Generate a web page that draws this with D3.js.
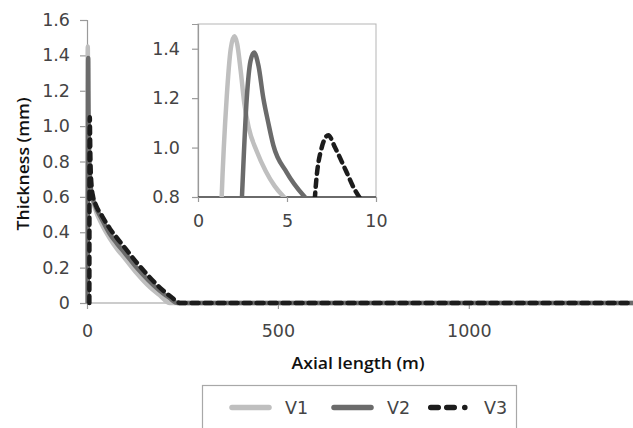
<!DOCTYPE html>
<html>
<head>
<meta charset="utf-8">
<script src="https://cdn.jsdelivr.net/npm/d3@7"></script>
<style>
  html, body { margin: 0; padding: 0; background: #fff; }
  svg { display: block; }
</style>
</head>
<body>
<script>
// ---- Data (axial length in m, thickness in mm) ----
const seriesNames = ["V1", "V2", "V3"];
const v1Length    = [1.0, 1.2, 1.33, 1.61, 1.84, 2.04, 2.2, 2.4, 2.6, 2.85, 3.3, 3.8, 4.3, 4.83, 6, 9, 12, 20, 40, 60, 79, 100, 130, 160, 190, 217, 1430];
const v1Thickness = [0, 0.5, 0.8, 1.2, 1.4, 1.45, 1.42, 1.31, 1.18, 1.08, 0.985, 0.905, 0.845, 0.8, 0.74, 0.66, 0.61, 0.54, 0.44, 0.365, 0.305, 0.25, 0.17, 0.10, 0.045, 0, 0];
const v2Length    = [2.1, 2.3, 2.47, 2.74, 2.95, 3.15, 3.4, 3.67, 3.95, 4.23, 4.98, 6.0, 8, 12, 20, 40, 60, 79, 100, 130, 160, 190, 215, 238, 1430];
const v2Thickness = [0, 0.5, 0.8, 1.2, 1.35, 1.385, 1.33, 1.2, 1.1, 1.01, 0.9, 0.8, 0.7, 0.62, 0.56, 0.47, 0.39, 0.335, 0.28, 0.2, 0.13, 0.07, 0.03, 0, 0];
const v3Length    = [6.2, 6.4, 6.57, 6.95, 7.32, 7.7, 8.35, 8.8, 9.06, 12, 16, 23, 40, 60, 79, 100, 132, 160, 193, 220, 245, 1430];
const v3Thickness = [0, 0.5, 0.8, 1.0, 1.05, 1.0, 0.9, 0.83, 0.8, 0.66, 0.6, 0.555, 0.49, 0.42, 0.366, 0.31, 0.224, 0.155, 0.083, 0.035, 0, 0];

const mainYTicks  = [0, 0.2, 0.4, 0.6, 0.8, 1.0, 1.2, 1.4, 1.6];
const mainXTicks  = [0, 500, 1000];
const insetYTicks = [0.8, 1.0, 1.2, 1.4];
const insetXTicks = [0, 5, 10];

const colors = ["#bfbfbf", "#6b6b6b", "#1c1c1c"];
const dashes = [null, null, "7,6"];

const series = [
  { name: seriesNames[0], x: v1Length, y: v1Thickness },
  { name: seriesNames[1], x: v2Length, y: v2Thickness },
  { name: seriesNames[2], x: v3Length, y: v3Thickness }
].map(s => ({ name: s.name, pts: s.x.map((d, i) => [d, s.y[i]]) }));

// ---- Layout ----
const W = 633, H = 428;
const svg = d3.select("body").append("svg").attr("width", W).attr("height", H);

const defs = svg.append("defs");
defs.append("clipPath").attr("id", "mainClip")
  .append("rect").attr("x", 80).attr("y", 10).attr("width", 553).attr("height", 300);
defs.append("clipPath").attr("id", "insetClip")
  .append("rect").attr("x", 198).attr("y", 24).attr("width", 178).attr("height", 173);

const x = d3.scaleLinear().domain([0, 1430]).range([87, 633]);
const y = d3.scaleLinear().domain([0, 1.6]).range([303, 20]);

const ix = d3.scaleLinear().domain([0, 10]).range([198, 376]);
const iy = d3.scaleLinear().domain([0.8, 1.5]).range([197, 24]);

const tickColor = "#9a9a9a";
const labelColor = "#444";
const tickFont = "'DejaVu Sans', sans-serif";
const fs = "17.5px";

function styleAxis(g) {
  g.attr("font-family", null).attr("font-size", null);
  g.select(".domain").attr("stroke", tickColor).attr("stroke-width", 1.2);
  g.selectAll(".tick line").attr("stroke", tickColor).attr("stroke-width", 1.2);
  g.selectAll(".tick text").attr("fill", labelColor)
    .style("font-family", tickFont).style("font-size", fs);
}

// Main Y axis
const yAxis = svg.append("g").attr("transform", "translate(87,0)")
  .call(d3.axisLeft(y).tickValues(mainYTicks).tickSize(7).tickPadding(10)
    .tickFormat(d => d === 0 ? "0" : d3.format(".1f")(d)));
// Main X axis
const xAxis = svg.append("g").attr("transform", "translate(0,303)")
  .call(d3.axisBottom(x).tickValues(mainXTicks).tickSize(6).tickPadding(16).tickFormat(d3.format("d")));
styleAxis(yAxis);
styleAxis(xAxis);
xAxis.select(".domain").attr("d", "M87,0H633");

// Axis titles
svg.append("text").attr("x", 358).attr("y", 369).attr("text-anchor", "middle")
  .style("font-family", "'Open Sans', sans-serif")
  .style("font-size", "17px").style("font-weight", 600).attr("fill", "#111")
  .attr("textLength", 133).attr("lengthAdjust", "spacingAndGlyphs")
  .text("Axial length (m)");
svg.append("text").attr("transform", "translate(29,164) rotate(-90)").attr("text-anchor", "middle")
  .style("font-family", "'Open Sans', sans-serif")
  .style("font-size", "17px").style("font-weight", 600).attr("fill", "#111")
  .attr("textLength", 133).attr("lengthAdjust", "spacingAndGlyphs")
  .text("Thickness (mm)");

// Main lines
const mainLine = d3.line().x(d => x(d[0])).y(d => y(d[1])).curve(d3.curveMonotoneX);
const mg = svg.append("g").attr("clip-path", "url(#mainClip)");
series.forEach((s, i) => {
  mg.append("path").attr("d", mainLine(s.pts)).attr("fill", "none")
    .attr("stroke", colors[i]).attr("stroke-width", 4.5)
    .attr("stroke-linecap", dashes[i] ? "round" : "butt")
    .attr("stroke-linejoin", "round")
    .attr("stroke-dasharray", dashes[i]);
});

// ---- Inset ----
const ig = svg.append("g");
ig.append("rect").attr("x", 198).attr("y", 24).attr("width", 178).attr("height", 173)
  .attr("fill", "#fff").attr("stroke", "#b5b5b5").attr("stroke-width", 1);

const iyAxis = ig.append("g").attr("transform", "translate(198,0)")
  .call(d3.axisLeft(iy).tickValues(insetYTicks).tickSize(6).tickPadding(12).tickFormat(d3.format(".1f")));
const ixAxis = ig.append("g").attr("transform", "translate(0,197)")
  .call(d3.axisBottom(ix).tickValues(insetXTicks).tickSize(5).tickPadding(13).tickFormat(d3.format("d")));
styleAxis(iyAxis);
styleAxis(ixAxis);
ixAxis.select(".domain").attr("d", "M198,0H376").attr("stroke", "#444").attr("stroke-width", 1.5);

const insetLine = d3.line().x(d => ix(d[0])).y(d => iy(d[1])).curve(d3.curveMonotoneX);
const icg = ig.append("g").attr("clip-path", "url(#insetClip)");
series.forEach((s, i) => {
  const pts = s.pts.filter(d => d[0] <= 12);
  icg.append("path").attr("d", insetLine(pts)).attr("fill", "none")
    .attr("stroke", colors[i]).attr("stroke-width", 4.5)
    .attr("stroke-linecap", dashes[i] ? "round" : "butt")
    .attr("stroke-linejoin", "round")
    .attr("stroke-dasharray", dashes[i]);
});

// ---- Legend ----
const lg = svg.append("g");
lg.append("rect").attr("x", 202.5).attr("y", 385.5).attr("width", 314).attr("height", 60)
  .attr("fill", "#fff").attr("stroke", "#a8a8a8").attr("stroke-width", 1.2);
const legendX = [230, 332, 429];
series.forEach((s, i) => {
  const lx = legendX[i];
  if (dashes[i]) {
    lg.append("path").attr("d", `M${lx + 1.75},407.5H${lx + 36}`).attr("fill", "none")
      .attr("stroke", colors[i]).attr("stroke-width", 5.5).attr("stroke-linecap", "round")
      .attr("stroke-dasharray", "7.5,8.5,7.5,10.5,0.1,30");
  } else {
    lg.append("path").attr("d", `M${lx + 2},407.5H${lx + 39}`).attr("fill", "none")
      .attr("stroke", colors[i]).attr("stroke-width", 5.5).attr("stroke-linecap", "round");
  }
  lg.append("text").attr("x", lx + 55).attr("y", 413.5)
    .style("font-family", tickFont).style("font-size", fs)
    .attr("fill", labelColor).text(s.name);
});
</script>
</body>
</html>
